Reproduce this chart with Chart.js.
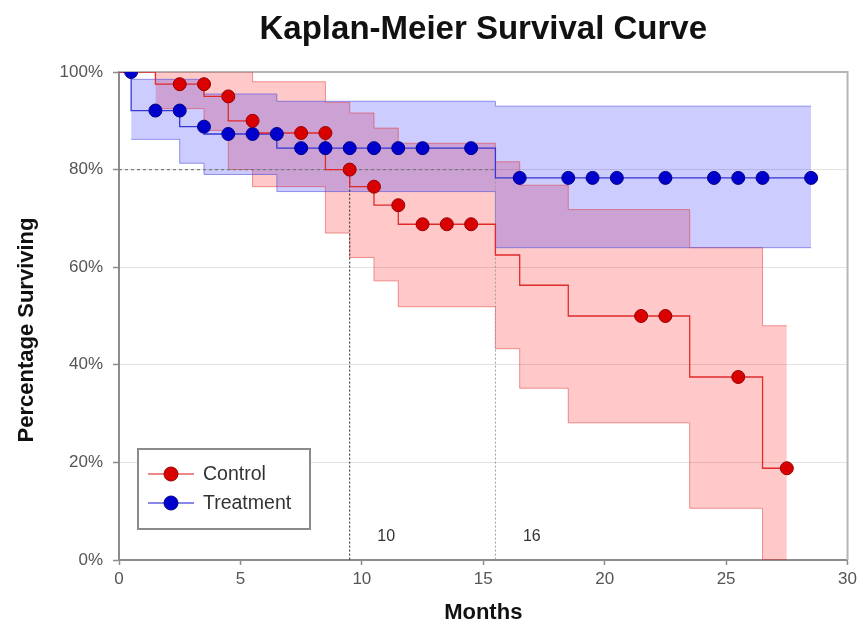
<!DOCTYPE html>
<html>
<head>
<meta charset="utf-8">
<script src="https://cdn.jsdelivr.net/npm/chart.js@4.4.0/dist/chart.umd.min.js"></script>
<style>
    html, body { margin: 0; padding: 0; background: #fff; }
    #wrap { position: relative; width: 861px; height: 627px; }
</style>
</head>
<body>
<div id="wrap"><canvas id="km-chart" width="861" height="627"></canvas></div>
<script>
// Kaplan-Meier survival, values (months / % surviving)

// step curves: each value holds from its time until the next time
const controlTimes = [0, 1.5, 3.5, 4.5, 5.5, 8.5, 9.5, 10.5, 11.5, 15.5, 16.5, 18.5, 23.5, 26.5, 27.5];
const controlSurv = [100, 97.5, 95, 90, 87.5, 80, 76.5, 72.7, 68.8, 62.5, 56.3, 50, 37.5, 18.8, 18.8];

const controlUpperTimes = [1.5, 5.5, 8.5, 9.5, 10.5, 11.5, 15.5, 16.5, 18.5, 23.5, 26.5, 27.5];
const controlUpper = [100, 98, 93.8, 91.6, 88.5, 85.4, 81.6, 76.8, 71.8, 64, 48, 48];
const controlLowerTimes = [1.5, 3.5, 4.5, 5.5, 8.5, 9.5, 10.5, 11.5, 15.5, 16.5, 18.5, 23.5, 26.5, 27.5];
const controlLower = [92.5, 88, 80, 76.5, 67, 62, 57.2, 51.9, 43.3, 35.2, 28.1, 10.6, 0, 0];

const treatTimes = [0, 0.5, 2.5, 3.5, 6.5, 15.5, 28.5];
const treatSurv = [100, 92.1, 88.8, 87.3, 84.4, 78.3, 78.3];

const treatUpperTimes = [0.5, 3.5, 6.5, 15.5, 28.5];
const treatUpper = [98.5, 95.5, 94, 93, 93];
const treatLowerTimes = [0.5, 2.5, 3.5, 6.5, 15.5, 28.5];
const treatLower = [86.2, 81.3, 79, 75.5, 64, 64];

// censor marks
const controlMarkTimes = [2.5, 3.5, 4.5, 5.5, 7.5, 8.5, 9.5, 10.5, 11.5, 12.5, 13.5, 14.5, 21.5, 22.5, 25.5, 27.5];
const controlMarks = [97.5, 97.5, 95, 90, 87.5, 87.5, 80, 76.5, 72.7, 68.8, 68.8, 68.8, 50, 50, 37.5, 18.8];
const treatMarkTimes = [0.5, 1.5, 2.5, 3.5, 4.5, 5.5, 6.5, 7.5, 8.5, 9.5, 10.5, 11.5, 12.5, 14.5,
    16.5, 18.5, 19.5, 20.5, 22.5, 24.5, 25.5, 26.5, 28.5];
const treatMarks = [100, 92.1, 92.1, 88.8, 87.3, 87.3, 87.3, 84.4, 84.4, 84.4, 84.4, 84.4, 84.4, 84.4,
    78.3, 78.3, 78.3, 78.3, 78.3, 78.3, 78.3, 78.3, 78.3];

// 80% reference and the times where each curve crosses it
const refLevel = 80;
const refTimes = [9.5, 15.5];
const refLabels = ['10', '16'];
const refLabelPos = [[11.0, 4.7], [17.0, 4.7]];

const yTicks = [0, 20, 40, 60, 80, 100];
const legendNames = ['Control', 'Treatment'];

const RED = '#d80000';
const BLUE = '#0000cc';
const FONT = "'Liberation Sans', Arial, sans-serif";

const pts = (xs, ys) => xs.map((x, i) => ({ x: x, y: ys[i] }));

function stepLine(data, color, width, order) {
    return {
        data: data, stepped: true, borderColor: color, borderWidth: width,
        pointRadius: 0, fill: false, order: order
    };
}

function band(data, lineColor, fillColor, fill, order) {
    return {
        data: data, stepped: true, borderColor: lineColor, borderWidth: 1,
        backgroundColor: fillColor, pointRadius: 0, fill: fill, order: order
    };
}

function marks(data, fill, edge, order) {
    return {
        data: data, showLine: false, pointRadius: 6.5, pointBackgroundColor: fill,
        pointBorderColor: edge, pointBorderWidth: 1, order: order
    };
}

const titlePlugin = {
    id: 'kmTitle',
    afterDraw(chart) {
        const { ctx, chartArea } = chart;
        ctx.save();
        ctx.font = 'bold 33px ' + FONT;
        ctx.fillStyle = '#111';
        ctx.textAlign = 'center';
        ctx.textBaseline = 'middle';
        ctx.fillText('Kaplan-Meier Survival Curve', (chartArea.left + chartArea.right) / 2, 30);

        // y axis title sits a little below the middle of the plot
        ctx.translate(27, 330);
        ctx.rotate(-Math.PI / 2);
        ctx.font = 'bold 22px ' + FONT;
        ctx.fillText('Percentage Surviving', 0, 0);
        ctx.restore();
    }
};

const framePlugin = {
    id: 'kmFrame',
    beforeDatasetsDraw(chart) {
        const { ctx, chartArea: a } = chart;
        ctx.save();
        ctx.strokeStyle = '#b5b5b5';
        ctx.lineWidth = 2;
        ctx.beginPath();
        ctx.moveTo(a.left, a.top);
        ctx.lineTo(a.right, a.top);
        ctx.lineTo(a.right, a.bottom);
        ctx.stroke();
        ctx.restore();
    }
};

const notesPlugin = {
    id: 'kmNotes',
    afterDatasetsDraw(chart) {
        const { ctx } = chart;
        const xs = chart.scales.x, ys = chart.scales.y;
        ctx.save();
        ctx.font = '16px ' + FONT;
        ctx.fillStyle = '#333';
        ctx.textAlign = 'center';
        ctx.textBaseline = 'middle';
        refLabels.forEach((t, i) => {
            ctx.fillText(t, xs.getPixelForValue(refLabelPos[i][0]), ys.getPixelForValue(refLabelPos[i][1]));
        });

        // legend box
        const bx = 138, by = 449, bw = 172, bh = 80;
        ctx.fillStyle = '#fff';
        ctx.fillRect(bx, by, bw, bh);
        ctx.strokeStyle = '#8a8a8a';
        ctx.lineWidth = 2;
        ctx.strokeRect(bx, by, bw, bh);
        const colors = [[RED, '#e86060', '#990000'], [BLUE, '#6060e0', '#000088']];
        legendNames.forEach((name, i) => {
            const y = by + 25 + i * 29;
            ctx.strokeStyle = colors[i][1];
            ctx.lineWidth = 1.5;
            ctx.beginPath();
            ctx.moveTo(bx + 10, y);
            ctx.lineTo(bx + 56, y);
            ctx.stroke();
            ctx.beginPath();
            ctx.arc(bx + 33, y, 7, 0, Math.PI * 2);
            ctx.fillStyle = colors[i][0];
            ctx.fill();
            ctx.strokeStyle = colors[i][2];
            ctx.lineWidth = 1;
            ctx.stroke();
            ctx.font = '19.5px ' + FONT;
            ctx.fillStyle = '#333';
            ctx.textAlign = 'left';
            ctx.fillText(name, bx + 65, y + 1);
        });
        ctx.restore();
    }
};

const ctx = document.getElementById('km-chart');
new Chart(ctx, {
    type: 'line',
    data: {
        datasets: [
            marks(pts(controlMarkTimes, controlMarks), RED, '#990000', 0),
            marks(pts(treatMarkTimes, treatMarks), BLUE, '#000088', 1),
            stepLine(pts(controlTimes, controlSurv), '#e02a2a', 1.3, 2),
            stepLine(pts(treatTimes, treatSurv), '#3535d5', 1.3, 3),
            // reference lines
            { data: [{ x: 0, y: refLevel }, { x: refTimes[1], y: refLevel }], borderColor: '#7a7a7a',
              borderWidth: 1.2, borderDash: [3, 3], pointRadius: 0, fill: false, order: 4 },
            { data: [{ x: refTimes[0], y: refLevel }, { x: refTimes[0], y: 0 }], borderColor: '#222',
              borderWidth: 1, borderDash: [2, 2], pointRadius: 0, fill: false, order: 5 },
            { data: [{ x: refTimes[1], y: refLevel }, { x: refTimes[1], y: 0 }], borderColor: '#9a9a9a',
              borderWidth: 1, borderDash: [2, 2], pointRadius: 0, fill: false, order: 6 },
            // confidence bands
            band(pts(treatUpperTimes, treatUpper), 'rgba(70,70,220,0.55)', 'rgba(0,0,255,0.2)', '+1', 7),
            band(pts(treatLowerTimes, treatLower), 'rgba(70,70,220,0.55)', 'rgba(0,0,255,0.2)', false, 8),
            band(pts(controlUpperTimes, controlUpper), 'rgba(225,50,50,0.5)', 'rgba(255,0,0,0.21)', '+1', 9),
            band(pts(controlLowerTimes, controlLower), 'rgba(225,50,50,0.5)', 'rgba(255,0,0,0.21)', false, 10)
        ]
    },
    options: {
        responsive: false,
        animation: false,
        events: [],
        layout: { padding: { left: 0, right: 10, top: 72, bottom: 0 } },
        plugins: {
            legend: { display: false },
            tooltip: { enabled: false },
            filler: { drawTime: 'beforeDatasetsDraw' }
        },
        scales: {
            x: {
                type: 'linear',
                min: 0,
                max: 30,
                afterFit: (s) => { s.height = 67; },
                border: { color: '#8c8c8c', width: 2 },
                grid: { drawOnChartArea: false, drawTicks: true, tickLength: 5, tickColor: '#8c8c8c', tickWidth: 1.5 },
                ticks: { stepSize: 5, color: '#555', padding: 4, font: { family: FONT, size: 17 } },
                title: { display: true, text: 'Months', color: '#111', padding: { top: 0, bottom: 1 },
                         font: { family: FONT, size: 22, weight: 'bold' } }
            },
            y: {
                min: 0,
                max: 100,
                afterFit: (s) => { s.width = 119; },
                afterBuildTicks: (s) => { s.ticks = yTicks.map(v => ({ value: v })); },
                border: { color: '#8c8c8c', width: 2 },
                grid: { color: '#e2e2e2', lineWidth: 1, tickLength: 6, tickColor: '#8c8c8c', tickWidth: 1.5 },
                ticks: { color: '#555', padding: 10, font: { family: FONT, size: 17 },
                         callback: (v) => v + '%' },
                title: { display: false }
            }
        }
    },
    plugins: [titlePlugin, framePlugin, notesPlugin]
});
</script>
</body>
</html>
